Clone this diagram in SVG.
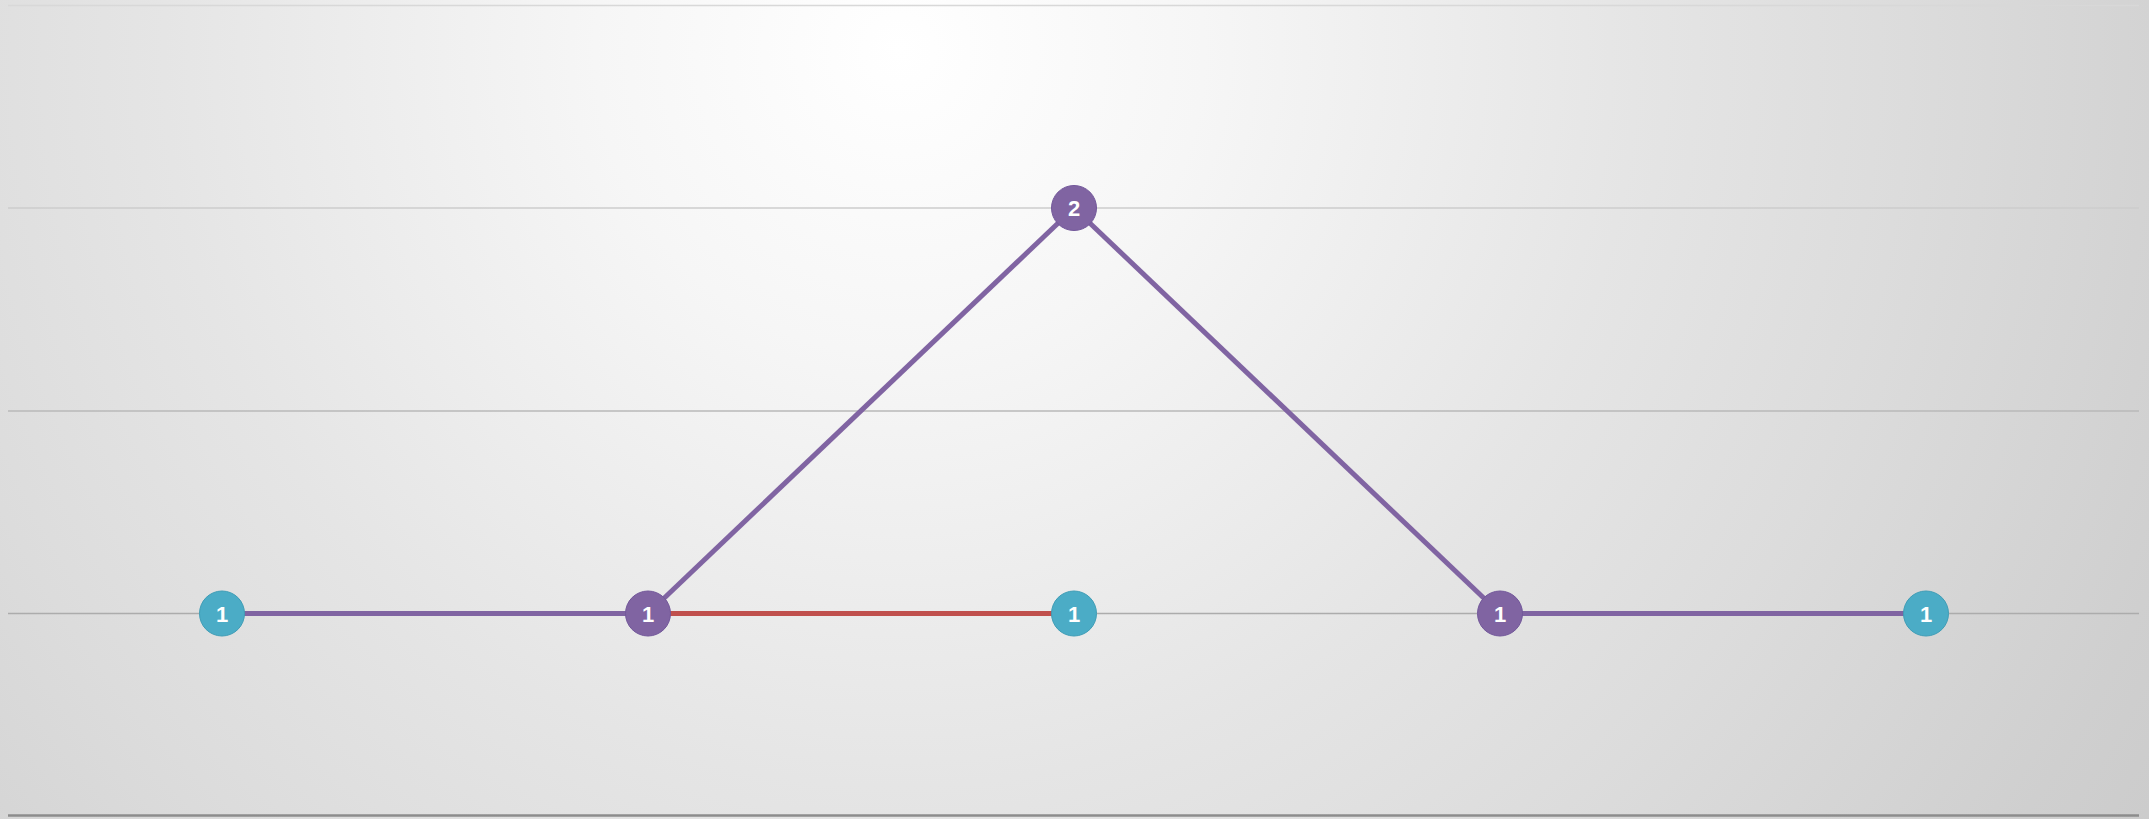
<svg xmlns="http://www.w3.org/2000/svg" width="2149" height="819" viewBox="0 0 2149 819">
<defs>
<radialGradient id="bg" gradientUnits="userSpaceOnUse" cx="900" cy="50" r="1600">
<stop offset="0" stop-color="#ffffff"/>
<stop offset="0.19" stop-color="#f6f6f6"/>
<stop offset="0.46" stop-color="#e5e5e5"/>
<stop offset="0.63" stop-color="#dcdcdc"/>
<stop offset="0.85" stop-color="#cfcfcf"/>
<stop offset="1" stop-color="#c8c8c8"/>
</radialGradient>
<style>
.grid{stroke:#bdbdbd;stroke-width:1.6;fill:none}
.edge{stroke-width:5;fill:none;stroke-linecap:butt}
.p{stroke:#8064a2}
.r{stroke:#c0504d}
.nc{fill:#4bacc6;stroke:#3f9db6;stroke-width:1}
.np{fill:#8064a2;stroke:#72579a;stroke-width:1}
.lbl{font-family:"Liberation Sans",Arial,sans-serif;font-weight:bold;font-size:22px;fill:#ffffff;text-anchor:middle}
</style>
</defs>
<rect x="0" y="0" width="2149" height="819" fill="url(#bg)"/>
<g id="grid">
<line class="grid" x1="8" y1="5.5" x2="2139" y2="5.5" style="stroke:#d8d8d8"/>
<line class="grid" x1="8" y1="208" x2="2139" y2="208" style="stroke:#cdcdcd"/>
<line class="grid" x1="8" y1="411" x2="2139" y2="411" style="stroke:#b8b8b8"/>
<line class="grid" x1="8" y1="613.5" x2="2139" y2="613.5" style="stroke:#acacac"/>
<line x1="8" y1="815.5" x2="2139" y2="815.5" stroke="#8c8c8c" stroke-width="2.4"/>
</g>
<g id="connectors">
<line class="edge p" x1="222" y1="613.5" x2="648" y2="613.5"/>
<line class="edge r" x1="648" y1="613.5" x2="1074" y2="613.5"/>
<line class="edge p" x1="648" y1="613.5" x2="1074" y2="208"/>
<line class="edge p" x1="1074" y1="208" x2="1500" y2="613.5"/>
<line class="edge p" x1="1500" y1="613.5" x2="1926" y2="613.5"/>
</g>
<g id="n1"><circle class="nc" cx="222" cy="613.5" r="22.5"/><text class="lbl" x="222" y="621.5">1</text></g>
<g id="n2"><circle class="np" cx="648" cy="613.5" r="22.5"/><text class="lbl" x="648" y="621.5">1</text></g>
<g id="n3"><circle class="nc" cx="1074" cy="613.5" r="22.5"/><text class="lbl" x="1074" y="621.5">1</text></g>
<g id="n4"><circle class="np" cx="1074" cy="208" r="22.5"/><text class="lbl" x="1074" y="216">2</text></g>
<g id="n5"><circle class="np" cx="1500" cy="613.5" r="22.5"/><text class="lbl" x="1500" y="621.5">1</text></g>
<g id="n6"><circle class="nc" cx="1926" cy="613.5" r="22.5"/><text class="lbl" x="1926" y="621.5">1</text></g>
</svg>
